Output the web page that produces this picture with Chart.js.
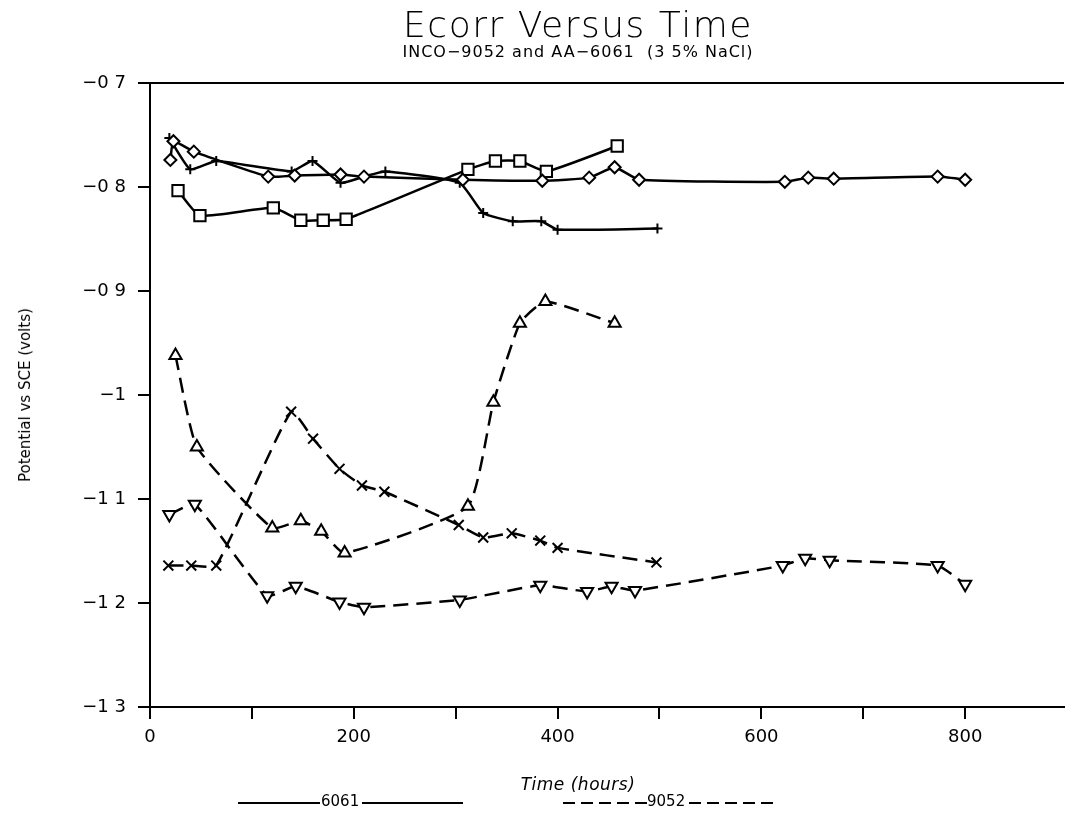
<!DOCTYPE html>
<html><head><meta charset="utf-8">
<script src="https://cdn.jsdelivr.net/npm/chart.js@4/dist/chart.umd.min.js"></script>
<style>
html,body{margin:0;padding:0;background:#fff;overflow:hidden}
#wrap{position:relative;width:1074px;height:815px}
canvas{position:absolute;left:0;top:0}
.t{position:absolute;font-family:"DejaVu Sans",sans-serif;color:#000;white-space:nowrap}
.leg{position:absolute;top:802px;height:2px;background:#000}
.legd{position:absolute;top:802px;height:2px;background:repeating-linear-gradient(90deg,#000 0 12px,transparent 12px 18px)}
</style></head><body>
<div id="wrap">
<canvas id="c" width="1074" height="815"></canvas>
<div class="t" style="left:278px;width:600px;text-align:center;top:4px;font-size:36px;font-weight:300;letter-spacing:1.5px">Ecorr Versus Time</div>
<div class="t" style="left:278px;width:600px;text-align:center;top:42px;font-size:16px;letter-spacing:1px">INCO−9052 and AA−6061&nbsp;&nbsp;(3 5% NaCl)</div>
<div class="t" style="left:25px;top:395px;font-size:15px;transform:translate(-50%,-50%) rotate(-90deg)">Potential vs SCE (volts)</div>
<div class="t" style="left:478px;width:200px;text-align:center;top:774px;font-size:17px;font-style:italic;letter-spacing:0.5px">Time (hours)</div>
<div class="leg" style="left:238px;width:82px"></div>
<div class="t" style="left:321px;top:792px;font-size:15px">6061</div>
<div class="leg" style="left:362px;width:101px"></div>
<div class="legd" style="left:563px;width:84px"></div>
<div class="t" style="left:647px;top:792px;font-size:15px">9052</div>
<div class="legd" style="left:689px;width:86px"></div>
</div>
<script>
// ---- data (time in hours, potential in volts vs SCE) ----
const diamondT = [20, 23, 43, 116, 142, 187, 210, 307, 385, 431, 456, 480, 623, 646, 671, 773, 800];
const diamondV = [-0.774, -0.756, -0.766, -0.790, -0.789, -0.788, -0.790, -0.793, -0.794, -0.791, -0.781, -0.793, -0.795, -0.791, -0.792, -0.790, -0.793];

const plusT = [19, 39.5, 65, 139, 159.5, 187, 210, 231, 304, 327, 356, 384, 400, 498];
const plusV = [-0.753, -0.783, -0.775, -0.785, -0.775, -0.796, -0.790, -0.785, -0.796, -0.825, -0.833, -0.833, -0.841, -0.840];

const squareT = [27.5, 49, 121, 148, 170, 192.5, 312, 339, 363, 389, 458.5];
const squareV = [-0.8035, -0.8275, -0.820, -0.832, -0.832, -0.831, -0.783, -0.775, -0.775, -0.785, -0.7606];

const triUpT = [25, 46, 120, 148, 168, 191, 312, 337, 363, 388, 456];
const triUpV = [-0.962, -1.050, -1.128, -1.121, -1.131, -1.152, -1.107, -1.007, -0.931, -0.910, -0.931];

const crossT = [18, 40.5, 65, 138.5, 160, 186, 208, 230, 303, 327, 355, 383, 400, 497];
const crossV = [-1.164, -1.164, -1.164, -1.016, -1.042, -1.071, -1.087, -1.093, -1.125, -1.137, -1.133, -1.140, -1.147, -1.161];

const triDnT = [19, 44, 115, 143, 186, 210, 304, 383, 429, 453, 476, 621, 643, 667, 773, 800];
const triDnV = [-1.115, -1.105, -1.193, -1.184, -1.199, -1.204, -1.197, -1.183, -1.189, -1.184, -1.188, -1.164, -1.157, -1.159, -1.164, -1.182];

const xTickValues = [0, 100, 200, 300, 400, 500, 600, 700, 800];
const xTickLabels = ['0', '', '200', '', '400', '', '600', '', '800'];
const yTickValues = [-1.3, -1.2, -1.1, -1.0, -0.9, -0.8, -0.7];
const yTickLabels = ['−1 3', '−1 2', '−1 1', '−1', '−0 9', '−0 8', '−0 7'];

const pts = (t, v) => t.map((x, i) => ({x: x, y: v[i]}));
const DASH = [15, 8];

function ds(label, t, v, style, r, dashed, rot) {
  return {
    label: label, data: pts(t, v),
    borderColor: '#000', borderWidth: 2.5, borderDash: dashed ? DASH : [],
    pointStyle: style, pointRadius: r, pointRotation: rot || 0,
    pointBorderColor: '#000', pointBackgroundColor: '#fff', pointBorderWidth: 2,
    tension: 0.15, fill: false
  };
}

const topLine = {
  id: 'topLine',
  afterDraw(chart) {
    const a = chart.chartArea, ctx = chart.ctx;
    ctx.save(); ctx.strokeStyle = '#000'; ctx.lineWidth = 2;
    ctx.beginPath(); ctx.moveTo(a.left, a.top); ctx.lineTo(a.right, a.top); ctx.stroke();
    ctx.restore();
  }
};

new Chart(document.getElementById('c'), {
  type: 'line',
  data: {
    datasets: [
      ds('6061 ◇', diamondT, diamondV, 'rectRot', 6, false),
      ds('6061 +', plusT, plusV, 'cross', 5, false),
      ds('6061 □', squareT, squareV, 'rect', 8, false),
      ds('9052 △', triUpT, triUpV, 'triangle', 7, true),
      ds('9052 ×', crossT, crossV, 'crossRot', 7, true),
      ds('9052 ▽', triDnT, triDnV, 'triangle', 7, true, 180)
    ]
  },
  plugins: [topLine],
  options: {
    responsive: false, animation: false, devicePixelRatio: 1,
    layout: {padding: {top: 83, left: 0, right: 0, bottom: 0}},
    plugins: {legend: {display: false}, tooltip: {enabled: false}},
    scales: {
      x: {
        type: 'linear', min: 0, max: 897, position: 'bottom',
        afterBuildTicks: s => { s.ticks = xTickValues.map(v => ({value: v})); },
        afterFit: s => { s.height = 108; },
        ticks: {
          autoSkip: false, maxRotation: 0, color: '#000', padding: 8,
          font: {family: 'DejaVu Sans', size: 18},
          callback: v => xTickLabels[xTickValues.indexOf(v)]
        },
        grid: {drawOnChartArea: false, drawTicks: true, tickLength: 12, color: '#000', lineWidth: 2},
        border: {display: true, color: '#000', width: 2}
      },
      y: {
        type: 'linear', min: -1.3, max: -0.7,
        afterBuildTicks: s => { s.ticks = yTickValues.map(v => ({value: v})); },
        afterFit: s => { s.width = 150; },
        ticks: {
          autoSkip: false, color: '#000', padding: 12,
          font: {family: 'DejaVu Sans', size: 18},
          callback: v => { const i = yTickValues.findIndex(w => Math.abs(w - v) < 1e-6); return i >= 0 ? yTickLabels[i] : ''; }
        },
        grid: {drawOnChartArea: false, drawTicks: true, tickLength: 12, color: '#000', lineWidth: 2},
        border: {display: true, color: '#000', width: 2}
      }
    }
  }
});
</script>
</body></html>
